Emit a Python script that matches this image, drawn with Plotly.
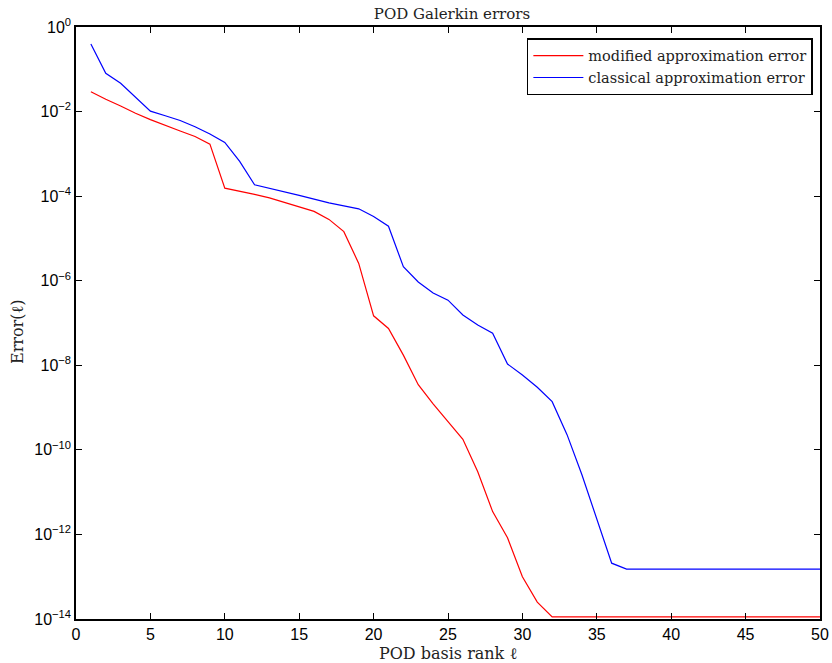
import plotly.graph_objects as go

rank = list(range(1, 51))

# log10 of errors
modified_log = [-1.53, -1.71, -1.87, -2.04, -2.19, -2.33, -2.46, -2.59, -2.77, -3.81,
                -3.88, -3.96, -4.04, -4.15, -4.26, -4.36, -4.55, -4.84, -5.59, -6.83,
                -7.13, -7.76, -8.46, -8.91, -9.33, -9.75, -10.52, -11.46, -12.08, -13.0,
                -13.60, -13.95] + [-13.95] * 18
classical_log = [-0.40, -1.095, -1.33, -1.66, -1.99, -2.10, -2.21, -2.36, -2.53, -2.73,
                 -3.18, -3.73, -3.81, -3.89, -3.98, -4.07, -4.16, -4.23, -4.30, -4.48,
                 -4.71, -5.67, -6.03, -6.29, -6.46, -6.81, -7.05, -7.24, -7.97, -8.23,
                 -8.52, -8.86, -9.64, -10.59, -11.66, -12.68, -12.82] + [-12.82] * 13

modified = [10 ** v for v in modified_log]
classical = [10 ** v for v in classical_log]

ytick_exp = [0, -2, -4, -6, -8, -10, -12, -14]
ytick_vals = [10 ** e for e in ytick_exp]
ytick_text = ["10<sup>%s</sup>" % (str(e).replace("-", "−")) for e in ytick_exp]
xtick_vals = list(range(0, 51, 5))

serif = "DejaVu Serif, Liberation Serif, serif"
sans = "Liberation Sans, Arial, sans-serif"

W, H = 832, 663
fig = go.Figure()
fig.add_trace(go.Scatter(x=rank, y=modified, mode="lines", name="modified approximation error",
                         line=dict(color="#ff0000", width=1.2)))
fig.add_trace(go.Scatter(x=rank, y=classical, mode="lines", name="classical approximation error",
                         line=dict(color="#0000ff", width=1.2)))

fig.update_layout(
    width=W, height=H,
    margin=dict(l=76, r=12, t=27, b=44),
    paper_bgcolor="white", plot_bgcolor="white",
    title=dict(text="POD Galerkin errors", x=452 / W, xanchor="center", y=1 - 14 / H, yanchor="middle",
               font=dict(family=serif, size=15, color="#222")),
    showlegend=True,
    legend=dict(x=0.606, y=0.981, xanchor="left", yanchor="top",
                bgcolor="white", bordercolor="black", borderwidth=1.5,
                font=dict(family=serif, size=14.5, color="#222"),
                tracegroupgap=0, itemwidth=50),
    xaxis=dict(range=[0, 50], tickvals=xtick_vals, ticks="inside", ticklen=6, tickcolor="black",
               showline=True, linecolor="black", linewidth=1.5, mirror="ticks", showgrid=False,
               zeroline=False, automargin=False, ticklabeloverflow="allow",
               tickfont=dict(family=sans, size=16, color="black"),
               title=dict(text="POD basis rank ℓ", font=dict(family=serif, size=16, color="#222"),
                          standoff=9)),
    yaxis=dict(type="log", range=[-14, 0], tickvals=ytick_vals, ticktext=ytick_text,
               ticks="inside", ticklen=6, tickcolor="black",
               showline=True, linecolor="black", linewidth=1.5, mirror="ticks", showgrid=False,
               zeroline=False, automargin=False, ticklabeloverflow="allow",
               tickfont=dict(family=sans, size=16, color="black")),
    annotations=[dict(text="Error(ℓ)", textangle=-90, xref="paper", yref="paper",
                      x=0, y=(619 - 332) / 592, xanchor="center", yanchor="middle",
                      xshift=18 - 76, showarrow=False,
                      font=dict(family=serif, size=16, color="#222"))],
)

fig.write_html("out.html", config={"displayModeBar": False},
               post_script="document.body.style.margin='0';document.body.style.padding='0';"
                           "document.body.style.overflow='hidden';")
